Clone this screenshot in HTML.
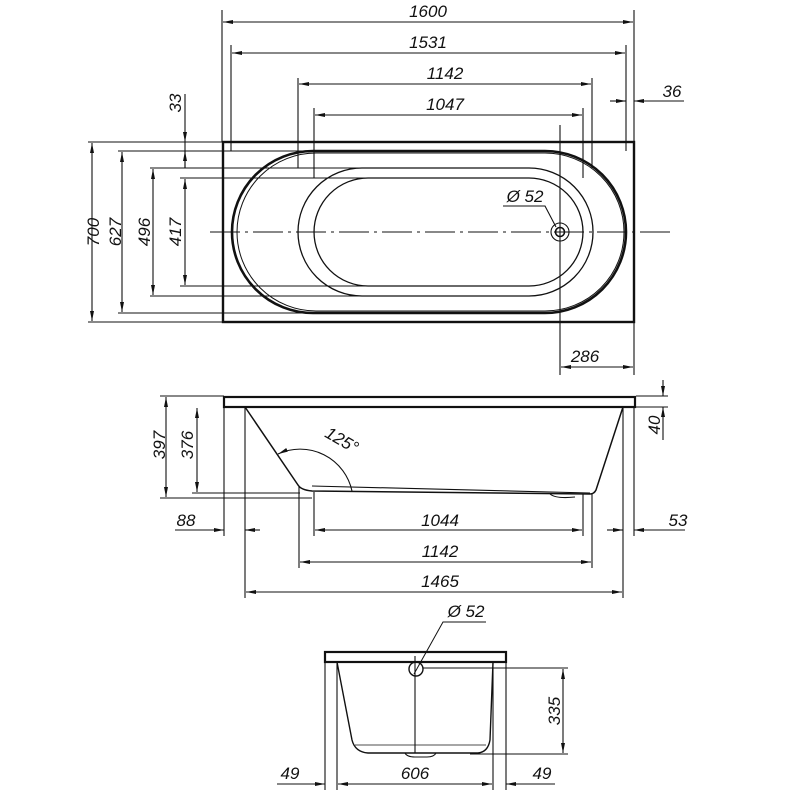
<!DOCTYPE html>
<html><head><style>
html,body{margin:0;padding:0;background:#fff}
svg{display:block}
text{font-family:"Liberation Sans",sans-serif;font-style:italic;font-size:17px;fill:#111}
</style></head><body>
<svg width="800" height="800" viewBox="0 0 800 800" xmlns="http://www.w3.org/2000/svg">
<defs>
<marker id="a" viewBox="0 0 10 6" refX="10" refY="3" markerWidth="10" markerHeight="6" orient="auto-start-reverse" markerUnits="userSpaceOnUse"><path d="M0,1 L10,3 L0,5z" fill="#111"/></marker>
</defs>
<g stroke="#111" fill="none" stroke-width="1.1">
<!-- TOP VIEW -->
<rect x="223" y="142" width="411" height="180" stroke-width="2.4"/>
<path d="M313,151 H545 A81,81 0 0 1 545,313 H313 A81,81 0 0 1 313,151Z" stroke-width="2.6"/>
<path d="M316,153 H545 A79,79 0 0 1 545,311 H316 A79,79 0 0 1 316,153Z" stroke-width="1"/>
<path d="M362,168 H529 A64,64 0 0 1 529,296 H362 A64,64 0 0 1 362,168Z" stroke-width="1.3"/>
<path d="M368,178 H529 A54,54 0 0 1 529,286 H368 A54,54 0 0 1 368,178Z" stroke-width="1.3"/>
<line x1="210" y1="232" x2="672" y2="232" stroke-dasharray="30,5,3,5" stroke-width="0.9"/>
<circle cx="560" cy="232" r="9"/><circle cx="560" cy="232" r="4.5" stroke-width="1.6"/>
<line x1="560" y1="125" x2="560" y2="375"/>
<path d="M503,206 H545 L556,227"/>
<!-- top dims -->
<line x1="222" y1="10" x2="222" y2="142"/><line x1="634" y1="10" x2="634" y2="142"/>
<line x1="231" y1="45" x2="231" y2="151"/><line x1="626" y1="45" x2="626" y2="151"/>
<line x1="298" y1="78" x2="298" y2="168"/><line x1="592" y1="78" x2="592" y2="168"/>
<line x1="314" y1="108" x2="314" y2="178"/><line x1="583" y1="108" x2="583" y2="178"/>
<line x1="223" y1="22" x2="633" y2="22" marker-start="url(#a)" marker-end="url(#a)"/>
<line x1="232" y1="53" x2="625" y2="53" marker-start="url(#a)" marker-end="url(#a)"/>
<line x1="299" y1="84" x2="591" y2="84" marker-start="url(#a)" marker-end="url(#a)"/>
<line x1="315" y1="115" x2="582" y2="115" marker-start="url(#a)" marker-end="url(#a)"/>
<line x1="610" y1="101" x2="626" y2="101" marker-end="url(#a)"/>
<line x1="684" y1="101" x2="634" y2="101" marker-end="url(#a)"/>
<!-- left dims -->
<line x1="88" y1="142" x2="223" y2="142"/><line x1="88" y1="322" x2="223" y2="322"/>
<line x1="118" y1="151" x2="313" y2="151"/><line x1="118" y1="313" x2="313" y2="313"/>
<line x1="150" y1="168" x2="362" y2="168"/><line x1="150" y1="296" x2="362" y2="296"/>
<line x1="180" y1="178" x2="368" y2="178"/><line x1="180" y1="286" x2="368" y2="286"/>
<line x1="92" y1="143" x2="92" y2="321" marker-start="url(#a)" marker-end="url(#a)"/>
<line x1="122" y1="152" x2="122" y2="312" marker-start="url(#a)" marker-end="url(#a)"/>
<line x1="153" y1="169" x2="153" y2="295" marker-start="url(#a)" marker-end="url(#a)"/>
<line x1="185" y1="179" x2="185" y2="285" marker-start="url(#a)" marker-end="url(#a)"/>
<line x1="185" y1="94" x2="185" y2="142" marker-end="url(#a)"/>
<line x1="185" y1="168" x2="185" y2="151" marker-end="url(#a)"/>
<line x1="185" y1="142" x2="185" y2="168"/>
<!-- 286 -->
<line x1="634" y1="322" x2="634" y2="375"/>
<line x1="561" y1="367" x2="633" y2="367" marker-start="url(#a)" marker-end="url(#a)"/>

<!-- SIDE VIEW -->
<rect x="224" y="397" width="411" height="10" stroke-width="2.2"/>
<path d="M245,407 L298,485 Q301,490 312,491 L590,494 Q594,494 596,490 L623,407" stroke-width="1.5"/>
<path d="M312,486 L590,493"/>
<path d="M550,494 Q556,499 575,497"/>
<line x1="160" y1="396" x2="224" y2="396"/><line x1="160" y1="498" x2="312" y2="498"/>
<line x1="192" y1="493" x2="300" y2="493"/>
<line x1="166" y1="397" x2="166" y2="497" marker-start="url(#a)" marker-end="url(#a)"/>
<line x1="197" y1="408" x2="197" y2="492" marker-start="url(#a)" marker-end="url(#a)"/>
<path d="M278,454 A53,53 0 0 1 352,491" marker-start="url(#a)"/>
<line x1="224" y1="407" x2="224" y2="536"/><line x1="245" y1="407" x2="245" y2="598"/>
<line x1="299" y1="487" x2="299" y2="568"/><line x1="314" y1="492" x2="314" y2="536"/>
<line x1="583" y1="494" x2="583" y2="536"/><line x1="592" y1="494" x2="592" y2="568"/>
<line x1="623" y1="407" x2="623" y2="598"/><line x1="634" y1="407" x2="634" y2="536"/>
<line x1="175" y1="530" x2="224" y2="530" marker-end="url(#a)"/>
<line x1="260" y1="530" x2="245" y2="530" marker-end="url(#a)"/>
<line x1="315" y1="530" x2="582" y2="530" marker-start="url(#a)" marker-end="url(#a)"/>
<line x1="300" y1="562" x2="591" y2="562" marker-start="url(#a)" marker-end="url(#a)"/>
<line x1="246" y1="592" x2="622" y2="592" marker-start="url(#a)" marker-end="url(#a)"/>
<line x1="607" y1="530" x2="623" y2="530" marker-end="url(#a)"/>
<line x1="685" y1="530" x2="634" y2="530" marker-end="url(#a)"/>
<line x1="636" y1="396" x2="668" y2="396"/><line x1="636" y1="407" x2="668" y2="407"/>
<line x1="663" y1="380" x2="663" y2="396" marker-end="url(#a)"/>
<line x1="663" y1="440" x2="663" y2="407" marker-end="url(#a)"/>

<!-- END VIEW -->
<rect x="325" y="652" width="181" height="10" stroke-width="2.2"/>
<path d="M337,662 L352,740 Q355,752 368,753 L478,753 Q488,752 490,740 L493,662" stroke-width="1.4"/>
<path d="M355,745 L486,745" stroke-width="0.8"/>
<path d="M405,753 Q407,757 415,757 L427,757 Q434,757 436,753"/>
<line x1="415" y1="656" x2="415" y2="753"/>
<circle cx="416" cy="669" r="7" stroke-width="1.4"/>
<path d="M414,674 L443,622 H486" stroke-width="1"/>
<line x1="423" y1="668" x2="568" y2="668"/><line x1="470" y1="754" x2="568" y2="754"/>
<line x1="563" y1="669" x2="563" y2="753" marker-start="url(#a)" marker-end="url(#a)"/>
<line x1="325" y1="662" x2="325" y2="790"/><line x1="337" y1="662" x2="337" y2="790"/>
<line x1="493" y1="662" x2="493" y2="790"/><line x1="506" y1="662" x2="506" y2="790"/>
<line x1="277" y1="784" x2="325" y2="784" marker-end="url(#a)"/>
<line x1="338" y1="784" x2="492" y2="784" marker-start="url(#a)" marker-end="url(#a)"/>
<line x1="555" y1="784" x2="506" y2="784" marker-end="url(#a)"/>
</g>
<!-- labels -->
<text x="428" y="17" text-anchor="middle">1600</text>
<text x="428" y="48" text-anchor="middle">1531</text>
<text x="445" y="79" text-anchor="middle">1142</text>
<text x="445" y="110" text-anchor="middle">1047</text>
<text x="672" y="97" text-anchor="middle">36</text>
<text x="525" y="202" text-anchor="middle">Ø 52</text>
<text x="585" y="362" text-anchor="middle">286</text>
<text transform="translate(99,232) rotate(-90)" text-anchor="middle">700</text>
<text transform="translate(121,232) rotate(-90)" text-anchor="middle">627</text>
<text transform="translate(150,232) rotate(-90)" text-anchor="middle">496</text>
<text transform="translate(181,232) rotate(-90)" text-anchor="middle">417</text>
<text transform="translate(181,103) rotate(-90)" text-anchor="middle">33</text>
<text transform="translate(165,445) rotate(-90)" text-anchor="middle">397</text>
<text transform="translate(193,445) rotate(-90)" text-anchor="middle">376</text>
<text transform="translate(339,445) rotate(30)" text-anchor="middle">125°</text>
<text transform="translate(660,425) rotate(-90)" text-anchor="middle">40</text>
<text x="186" y="526" text-anchor="middle">88</text>
<text x="440" y="526" text-anchor="middle">1044</text>
<text x="440" y="557" text-anchor="middle">1142</text>
<text x="440" y="587" text-anchor="middle">1465</text>
<text x="678" y="526" text-anchor="middle">53</text>
<text x="466" y="617" text-anchor="middle">Ø 52</text>
<text transform="translate(560,711) rotate(-90)" text-anchor="middle">335</text>
<text x="290" y="779" text-anchor="middle">49</text>
<text x="415" y="779" text-anchor="middle">606</text>
<text x="542" y="779" text-anchor="middle">49</text>
</svg>
</body></html>
